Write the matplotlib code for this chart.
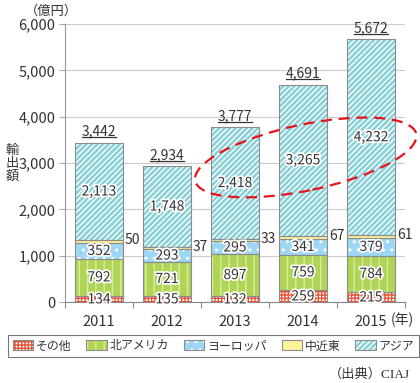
import numpy as np
import matplotlib
matplotlib.use("Agg")
import matplotlib.pyplot as plt
from matplotlib.patches import Patch, Ellipse
from matplotlib.lines import Line2D
import matplotlib.patheffects as pe
import matplotlib.transforms as mtransforms

plt.rcParams['font.family'] = ['Noto Sans CJK JP', 'DejaVu Sans']
plt.rcParams['hatch.linewidth'] = 1.0

years = ['2011', '2012', '2013', '2014', '2015']
series = ['その他', '北アメリカ', 'ヨーロッパ', '中近東', 'アジア']
other = [134, 135, 132, 259, 215]
namerica = [792, 721, 897, 759, 784]
europe = [352, 293, 295, 341, 379]
mideast = [50, 37, 33, 67, 61]
asia = [2113, 1748, 2418, 3265, 4232]
totals = [3442, 2934, 3777, 4691, 5672]
yticks = [0, 1000, 2000, 3000, 4000, 5000, 6000]

values = [other, namerica, europe, mideast, asia]
faces = ['#ffffff', '#b0d455', '#9dd7f3', '#fff39a', '#86d0d8']
hatchcols = ['#e8553a', '#d9eda0', '#ffffff', '#fff39a', '#ffffff']
hatches = ['+++++', '||', '..', None, '//////']
edge = '#8c8c8c'

fig = plt.figure(figsize=(4.2, 3.83), dpi=100)
ax = fig.add_axes([65/420, 1-302/383, 340/420, 278/383])

x = np.arange(len(years))
w = 0.7
bottom = np.zeros(len(years))
handles = []
for vals, fc, hc, h, name in zip(values, faces, hatchcols, hatches, series):
    vals = np.array(vals, float)
    ax.bar(x, vals, w, bottom=bottom, color=fc, edgecolor=hc, hatch=h, linewidth=0, zorder=2)
    ax.bar(x, vals, w, bottom=bottom, facecolor='none', edgecolor=edge, linewidth=0.8, zorder=3)
    h1 = Patch(facecolor=fc, edgecolor=hc, hatch=h, linewidth=0)
    h2 = Patch(facecolor='none', edgecolor=edge, linewidth=0.8)
    handles.append((h1, h2))
    bottom += vals

stroke = [pe.withStroke(linewidth=2.5, foreground='white')]
# segment labels
cum = np.zeros(len(years))
for si, vals in enumerate(values):
    vals = np.array(vals, float)
    for i in range(len(years)):
        txt = f"{int(vals[i]):,}"
        if si == 3:
            ax.text(x[i] + w/2 + 0.03, cum[i] + vals[i]/2 + 30, txt, ha='left', va='center',
                    fontsize=10, color='#333333', zorder=5)
        else:
            yy = cum[i] + vals[i]/2
            if si == 0:
                yy = cum[i] + vals[i]/2 - 10
            ax.text(x[i], yy, txt, ha='center', va='center', fontsize=10,
                    color='#333333', zorder=5, path_effects=stroke)
    cum += vals

# totals
tot_texts = []
for i in range(len(years)):
    t = ax.text(x[i], bottom[i] + 90, f"{totals[i]:,}", ha='center', va='bottom',
                fontsize=10, color='#333333', zorder=5)
    tot_texts.append(t)

ax.set_xlim(-0.5, len(years) - 0.5)
ax.set_ylim(0, 6000)
ax.set_yticks(yticks)
ax.set_yticklabels([f"{v:,}" for v in yticks], fontsize=10.5, color='#333333')
ax.set_xticks(x)
ax.set_xticklabels(years, fontsize=10.5, color='#333333')
ax.set_xticks(np.arange(len(years) + 1) - 0.5, minor=True)
ax.tick_params(axis='x', which='major', length=0, pad=9)
ax.tick_params(axis='x', which='minor', length=4, color=edge, width=0.8)
ax.tick_params(axis='y', length=4, color='#aaaaaa', width=0.8, pad=3)
ax.grid(axis='y', color='#cccccc', linewidth=0.8, zorder=0)
for s in ['top', 'right']:
    ax.spines[s].set_visible(False)
ax.spines['left'].set_color('#999999')
ax.spines['bottom'].set_color('#888888')
ax.set_axisbelow(True)

# ellipse annotation anchored to data
trans = fig.dpi_scale_trans + mtransforms.ScaledTranslation(3.04, 3120, ax.transData)
ell = Ellipse((0, 0), 2.26, 0.66, angle=12, transform=trans, fill=False,
              edgecolor='#e8141c', linestyle=(0, (5, 3)), linewidth=1.6, zorder=6, clip_on=False)
ax.add_patch(ell)

fig.text(25/420, 1-11/383, '（億円）', fontsize=9.5, color='#333333', va='center', ha='left')
fig.text(12/420, 1-163/383, '輸\n出\n額', fontsize=9.5, color='#333333', va='center', ha='center',
         linespacing=1.0)
fig.text(391/420, 1-320/383, '(年)', fontsize=10, color='#333333', va='center', ha='left')
fig.text(410/420, 1-374/383, '（出典）CIAJ', fontsize=9.5, color='#333333', va='center', ha='right',
         family=['Liberation Serif', 'Noto Sans CJK JP'])

leg = fig.legend(handles, series, ncol=5, loc='center', bbox_to_anchor=(213.5/420, 1-346/383),
                 fontsize=8.6, frameon=True, fancybox=False, edgecolor='#555555',
                 handlelength=1.7, handleheight=0.9, columnspacing=1.25, handletextpad=0.25,
                 borderpad=0.4, borderaxespad=0)
for t in leg.get_texts():
    t.set_color('#333333')
leg.get_frame().set_linewidth(0.8)

# underline totals
fig.canvas.draw()
inv = fig.transFigure.inverted()
r = fig.canvas.get_renderer()
for t in tot_texts:
    bb = t.get_window_extent(renderer=r)
    (x0, y0), (x1, y1) = inv.transform([(bb.x0, bb.y0 + 1), (bb.x1, bb.y0 + 1)])
    fig.add_artist(Line2D([x0, x1], [y0, y1], color='#333333', linewidth=0.9))

fig.savefig('out.png', dpi=100)
